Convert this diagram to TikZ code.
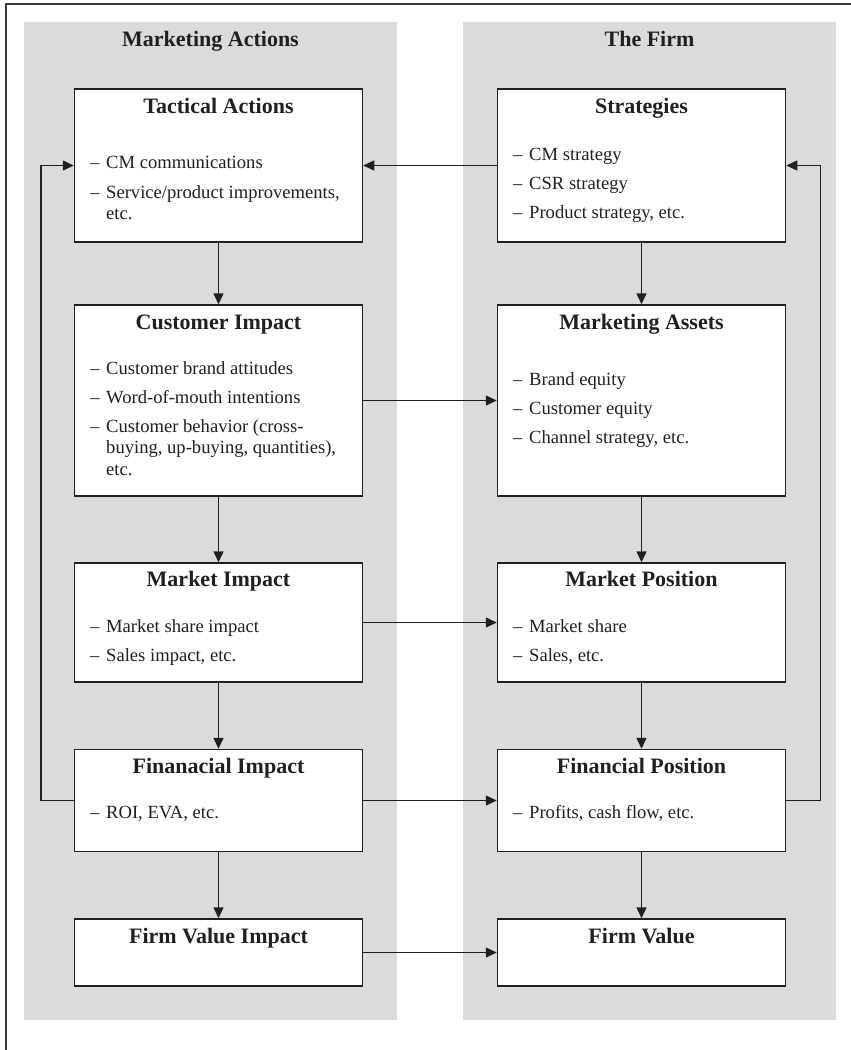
\documentclass[tikz,border=0pt]{standalone}
\usepackage{fontspec}
\setmainfont{Liberation Serif}
\usetikzlibrary{arrows.meta}
\definecolor{panelgray}{HTML}{DBDBDB}
\definecolor{ink}{HTML}{231F20}
\definecolor{framegray}{HTML}{3A3A3A}
% bullet-style line: a dash followed by the text
\newcommand\dashitem[1]{\makebox[16pt][l]{–}#1}
\begin{document}
\begin{tikzpicture}[x=1pt,y=-1pt,
  box/.style={draw=ink, line width=1.5pt, fill=white, rectangle,
              minimum width=288pt, inner sep=0pt},
  head/.style={font=\fontsize{22}{26}\selectfont\bfseries, text=ink,
               anchor=mid, inner sep=0pt},
  item/.style={font=\fontsize{18.6}{21}\selectfont, text=ink,
               anchor=mid west, inner sep=0pt},
  link/.style={draw=ink, line width=1.5pt,
               -{Triangle[length=11pt,width=10pt]}},
]
\useasboundingbox (0,0) rectangle (851,1050);

% outer frame (top and left edges)
\draw[framegray, line width=1.5pt] (6,1050) -- (6,4) -- (851,4);

% two gray columns
\fill[panelgray] (24,22) rectangle (397,1020);
\fill[panelgray] (463,22) rectangle (836,1020);

\node[head] (hleft)  at (210.5,44) {Marketing Actions};
\node[head] (hright) at (649.5,44) {The Firm};

% left column boxes
\node[box, minimum height=153pt] (ta)  at (218.5,165.5) {};
\node[box, minimum height=191pt] (ci)  at (218.5,400.5) {};
\node[box, minimum height=119pt] (mi)  at (218.5,622.5) {};
\node[box, minimum height=102pt] (fi)  at (218.5,800.5) {};
\node[box, minimum height=67pt]  (fvi) at (218.5,952.5) {};

% right column boxes
\node[box, minimum height=153pt] (st) at (641.5,165.5) {};
\node[box, minimum height=191pt] (ma) at (641.5,400.5) {};
\node[box, minimum height=119pt] (mp) at (641.5,622.5) {};
\node[box, minimum height=102pt] (fp) at (641.5,800.5) {};
\node[box, minimum height=67pt]  (fv) at (641.5,952.5) {};

% vertical flow
\draw[link] (ta.south) -- (ci.north);
\draw[link] (ci.south) -- (mi.north);
\draw[link] (mi.south) -- (fi.north);
\draw[link] (fi.south) -- (fvi.north);
\draw[link] (st.south) -- (ma.north);
\draw[link] (ma.south) -- (mp.north);
\draw[link] (mp.south) -- (fp.north);
\draw[link] (fp.south) -- (fv.north);

% horizontal links
\draw[link] (st.west) -- (ta.east);
\draw[link] (ci.east) -- (ma.west);
\draw[link] (mi.east) -- (mp.west);
\draw[link] (fi.east) -- (fp.west);
\draw[link] (fvi.east) -- (fv.west);

% feedback loops
\draw[link] (fi.west) -- ++(-33,0) |- (ta.west);
\draw[link] (fp.east) -- ++(34,0) |- (st.east);

% box titles
\node[head] (tat)  at (218.5,111) {Tactical Actions};
\node[head] (cit)  at (218.5,327) {Customer Impact};
\node[head] (mit)  at (218.5,584) {Market Impact};
\node[head] (fit)  at (218.5,771) {Finanacial Impact};
\node[head] (fvit) at (218.5,941) {Firm Value Impact};
\node[head] (stt)  at (641.5,111) {Strategies};
\node[head] (mat)  at (641.5,327) {Marketing Assets};
\node[head] (mpt)  at (641.5,584) {Market Position};
\node[head] (fpt)  at (641.5,771) {Financial Position};
\node[head] (fvt)  at (641.5,941) {Firm Value};

% left column items
\node[item] (ta1) at (90,166) {\dashitem{CM communications}};
\node[item] (ta2) at (90,196) {\dashitem{Service/product improvements,}};
\node[item] (ta3) at (106,217) {etc.};

\node[item] (ci1) at (90,372) {\dashitem{Customer brand attitudes}};
\node[item] (ci2) at (90,401) {\dashitem{Word-of-mouth intentions}};
\node[item] (ci3) at (90,430) {\dashitem{Customer behavior (cross-}};
\node[item] (ci4) at (106,451) {buying, up-buying, quantities),};
\node[item] (ci5) at (106,473) {etc.};

\node[item] (mi1) at (90,630) {\dashitem{Market share impact}};
\node[item] (mi2) at (90,659) {\dashitem{Sales impact, etc.}};

\node[item] (fi1) at (90,816) {\dashitem{ROI, EVA, etc.}};

% right column items
\node[item] (st1) at (513,158) {\dashitem{CM strategy}};
\node[item] (st2) at (513,187) {\dashitem{CSR strategy}};
\node[item] (st3) at (513,216) {\dashitem{Product strategy, etc.}};

\node[item] (ma1) at (513,383) {\dashitem{Brand equity}};
\node[item] (ma2) at (513,412) {\dashitem{Customer equity}};
\node[item] (ma3) at (513,441) {\dashitem{Channel strategy, etc.}};

\node[item] (mp1) at (513,630) {\dashitem{Market share}};
\node[item] (mp2) at (513,659) {\dashitem{Sales, etc.}};

\node[item] (fp1) at (513,816) {\dashitem{Profits, cash flow, etc.}};
\end{tikzpicture}
\end{document}
